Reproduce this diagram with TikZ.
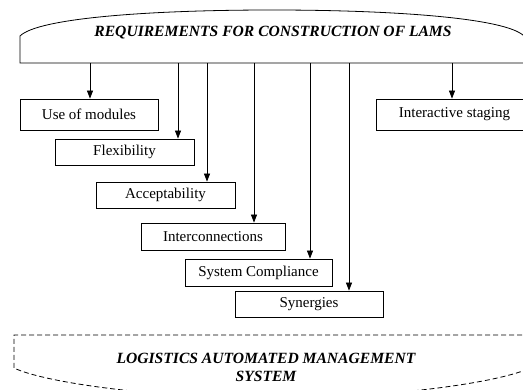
\documentclass[tikz,border=0pt]{standalone}
\usepackage{fontspec}
\setmainfont{Liberation Serif}
\usetikzlibrary{arrows.meta}
\begin{document}
\begin{tikzpicture}[x=1pt,y=-1pt,
  box/.style={draw, line width=0.8pt, inner sep=0pt, font=\fontsize{15}{18}\selectfont},
  arr/.style={-{Triangle[length=8pt,width=6pt]}, line width=0.8pt},
  frame/.style={line width=0.8pt},
  dframe/.style={line width=0.8pt, dash pattern=on 5pt off 3pt},
  ttl/.style={font=\fontsize{15.6}{18}\selectfont\bfseries\itshape, align=center}
]
\useasboundingbox (0,0) rectangle (523,390);
\clip (0,0) rectangle (523,390);
% top shape
\draw[frame] (20,63) -- (20,36) .. controls (38,18) and (150,10) .. (272,10)
  .. controls (394,10) and (506,18) .. (524,36) -- (524,63) -- cycle;
\node[ttl] (req) at (273,33) {REQUIREMENTS FOR CONSTRUCTION OF LAMS};
% boxes
\node[box, minimum width=138pt, minimum height=31pt] (use) at (89,114.5) {Use of modules};
\node[box, minimum width=157pt, minimum height=31pt] (inter) at (454.5,114.5) {Interactive staging};
\node[box, minimum width=139pt, minimum height=26pt] (flex) at (124.5,152) {Flexibility};
\node[box, minimum width=139pt, minimum height=26pt] (acc) at (165.5,195) {Acceptability};
\node[box, minimum width=144pt, minimum height=27pt] (icon) at (213,236.5) {Interconnections};
\node[box, minimum width=147pt, minimum height=27pt] (sysc) at (258.5,272.5) {System Compliance};
\node[box, minimum width=148pt, minimum height=26pt] (syn) at (309,304) {Synergies};
% arrow starts
\coordinate (a1) at (90,63);
\coordinate (a2) at (178,63);
\coordinate (a3) at (207,63);
\coordinate (a4) at (254,63);
\coordinate (a5) at (310,63);
\coordinate (a6) at (349,63);
\coordinate (a7) at (452,63);
\draw[arr] (a1) -- (a1 |- use.north);
\draw[arr] (a2) -- (a2 |- flex.north);
\draw[arr] (a3) -- (a3 |- acc.north);
\draw[arr] (a4) -- (a4 |- icon.north);
\draw[arr] (a5) -- (a5 |- sysc.north);
\draw[arr] (a6) -- (a6 |- syn.north);
\draw[arr] (a7) -- (a7 |- inter.north);
% bottom shape
\draw[dframe] (14,368) -- (14,335) -- (530,335) -- (530,368)
  .. controls (501,382) and (394,398) .. (272,398)
  .. controls (150,398) and (43,382) .. (14,368);
\node[ttl] (lams) at (266,367) {LOGISTICS AUTOMATED MANAGEMENT\\SYSTEM};
\end{tikzpicture}
\end{document}
